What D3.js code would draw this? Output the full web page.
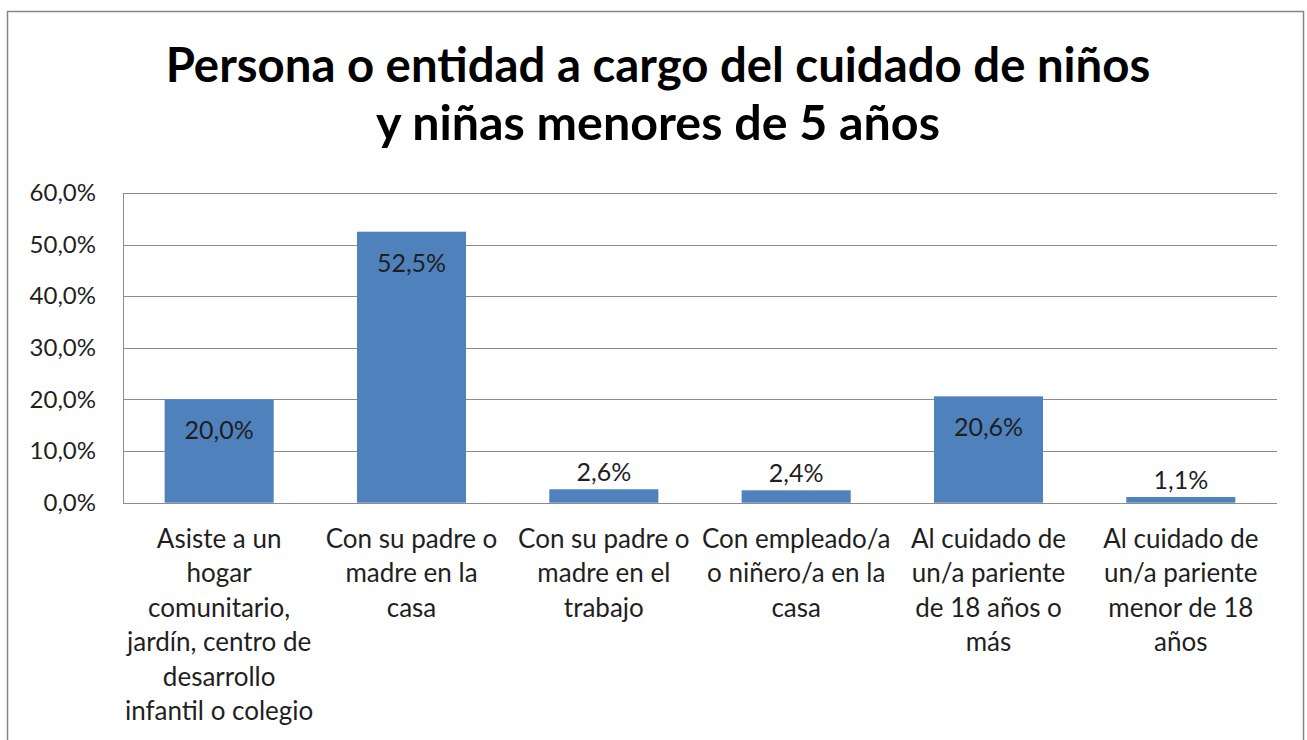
<!DOCTYPE html>
<html>
<head>
<meta charset="utf-8">
<script src="https://cdn.jsdelivr.net/npm/d3@7"></script>
<style>
  html, body { margin: 0; padding: 0; background: #fff; }
  svg { display: block; }
  text { font-family: Lato, "Open Sans", "DejaVu Sans", sans-serif; }
</style>
</head>
<body>
<svg id="chart" width="1307" height="740"></svg>
<script>
const titleLines = ["Persona o entidad a cargo del cuidado de niños", "y niñas menores de 5 años"];
const categories = [
  ["Asiste a un", "hogar", "comunitario,", "jardín, centro de", "desarrollo", "infantil o colegio"],
  ["Con su padre o", "madre en la", "casa"],
  ["Con su padre o", "madre en el", "trabajo"],
  ["Con empleado/a", "o niñero/a en la", "casa"],
  ["Al cuidado de", "un/a pariente", "de 18 años o", "más"],
  ["Al cuidado de", "un/a pariente", "menor de 18", "años"]
];
const values = [20.0, 52.5, 2.6, 2.4, 20.6, 1.1];
const yTicks = [0, 10, 20, 30, 40, 50, 60];

const svg = d3.select("#chart");
const plot = { left: 123, right: 1277, top: 193, bottom: 502.7 };

// outer frame
svg.append("rect")
  .attr("x", 7.5).attr("y", 11.5)
  .attr("width", 1296).attr("height", 760)
  .attr("fill", "#fff").attr("stroke", "#868686").attr("stroke-width", 1.5);

const x = d3.scaleBand()
  .domain(d3.range(categories.length))
  .range([plot.left, plot.right])
  .paddingInner(0.433).paddingOuter(0.2165);

const y = d3.scaleLinear().domain([0, 60]).range([plot.bottom, plot.top]);

const fmt = v => v.toFixed(1).replace(".", ",") + "%";

// gridlines
svg.append("g").selectAll("line").data(yTicks).join("line")
  .attr("x1", plot.left).attr("x2", plot.right)
  .attr("y1", d => Math.round(y(d)) + 0.5).attr("y2", d => Math.round(y(d)) + 0.5)
  .attr("stroke", "#8c8c8c").attr("stroke-width", 1);

// y axis
const yAxis = d3.axisLeft(y).tickValues(yTicks).tickSize(0).tickPadding(27)
  .tickFormat(d => d.toFixed(1).replace(".", ",") + "%");
const gy = svg.append("g").attr("transform", `translate(${plot.left},0)`).call(yAxis);
gy.select(".domain").attr("stroke", "#8c8c8c");
gy.selectAll("text").attr("font-size", 24).attr("fill", "#1f1f1f").attr("font-family", null);

// bars
svg.append("g").selectAll("rect").data(values).join("rect")
  .attr("x", (d, i) => x(i))
  .attr("width", x.bandwidth())
  .attr("y", d => y(d))
  .attr("height", d => y(0) - y(d))
  .attr("fill", "#4f81bd");

// x axis line
svg.append("line")
  .attr("x1", plot.left).attr("x2", plot.right)
  .attr("y1", Math.round(y(0)) + 0.5).attr("y2", Math.round(y(0)) + 0.5)
  .attr("stroke", "#8c8c8c");

// data labels
svg.append("g").selectAll("text").data(values).join("text")
  .attr("x", (d, i) => x(i) + x.bandwidth() / 2)
  .attr("y", d => d > 10 ? y(d) + 40 : y(d) - 8)
  .attr("text-anchor", "middle")
  .attr("font-size", 25)
  .attr("fill", "#1f1f1f")
  .text(d => fmt(d));

// category labels
const catG = svg.append("g");
categories.forEach((lines, i) => {
  const t = catG.append("text")
    .attr("text-anchor", "middle")
    .attr("font-size", 26)
    .attr("fill", "#1f1f1f");
  lines.forEach((ln, j) => {
    t.append("tspan")
      .attr("x", x(i) + x.bandwidth() / 2)
      .attr("y", 548 + j * 34.4)
      .text(ln);
  });
});

// title
const tg = svg.append("g");
const titleBaselines = [82, 140];
const titleWidths = [985, 564];
titleLines.forEach((ln, j) => {
  const t = tg.append("text")
    .attr("x", 658)
    .attr("y", titleBaselines[j])
    .attr("text-anchor", "middle")
    .attr("font-size", 40)
    .attr("font-weight", "bold")
    .attr("fill", "#000")
    .text(ln);
  const w = t.node().getComputedTextLength();
  if (w > 0) t.attr("font-size", 40 * titleWidths[j] / w);
});
</script>
</body>
</html>
